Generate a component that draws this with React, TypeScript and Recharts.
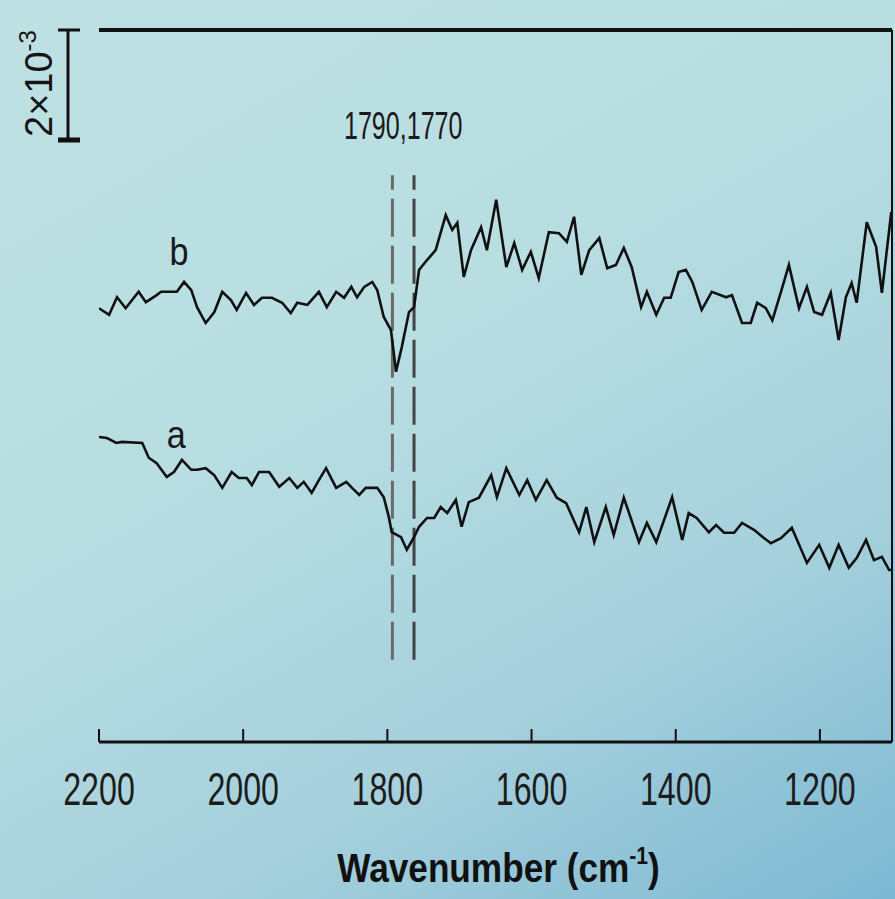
import React from "react";
import {
  LineChart,
  Line,
  XAxis,
  YAxis,
  ReferenceLine,
  ReferenceDot,
  Label,
} from "recharts";

// wavenumbers (cm-1) and absorbance (x10^-3, arbitrary offset)
const traceBWave = [
  2200, 2186, 2175, 2163, 2145, 2135, 2120, 2114, 2092, 2082, 2072, 2064, 2052, 2040, 2029, 2017,
  2009, 1996, 1985, 1974, 1960, 1946, 1934, 1925, 1911, 1895, 1884, 1871, 1860, 1850, 1842, 1832,
  1821, 1814, 1805, 1795, 1788, 1780, 1770, 1763, 1756, 1745, 1733, 1719, 1710, 1703, 1694, 1684,
  1670, 1662, 1649, 1635, 1624, 1613, 1601, 1590, 1576, 1562, 1551, 1541, 1531, 1520, 1506, 1495,
  1483, 1472, 1461, 1448, 1440, 1427, 1416, 1407, 1396, 1386, 1377, 1364, 1350, 1330, 1322, 1308,
  1296, 1287, 1275, 1266, 1254, 1243, 1229, 1218, 1208, 1197, 1185, 1174, 1164, 1156, 1149, 1135,
  1122, 1114, 1101,
];
const traceBAbs = [
  7.92, 7.8, 8.12, 7.92, 8.22, 8.03, 8.16, 8.22, 8.22, 8.4, 8.25, 7.94, 7.65, 7.85, 8.22, 8.07,
  7.89, 8.2, 7.98, 8.11, 8.11, 8.02, 7.83, 8.02, 7.98, 8.22, 7.94, 8.22, 8.11, 8.31, 8.12, 8.31,
  8.4, 8.25, 7.76, 7.52, 6.76, 7.21, 7.85, 7.94, 8.62, 8.8, 8.98, 9.62, 9.35, 9.48, 8.49, 8.98,
  9.4, 8.98, 9.9, 8.67, 9.11, 8.62, 8.95, 8.47, 9.31, 9.29, 9.13, 9.59, 8.53, 8.98, 9.2, 8.65,
  8.71, 9.02, 8.67, 7.94, 8.22, 7.8, 8.11, 8.11, 8.58, 8.62, 8.4, 7.89, 8.22, 8.12, 8.16, 7.65,
  7.65, 8.02, 7.92, 7.7, 8.22, 8.71, 7.92, 8.31, 7.85, 7.8, 8.2, 7.34, 8.12, 8.38, 8.02, 9.49,
  9.04, 8.2, 9.68,
];

const traceAWave = [
  2200, 2189, 2176, 2168, 2140, 2131, 2120, 2106, 2096, 2085, 2072, 2064, 2052, 2040, 2029, 2016,
  2006, 1995, 1988, 1978, 1964, 1950, 1936, 1925, 1916, 1905, 1895, 1885, 1871, 1857, 1849, 1839,
  1830, 1814, 1805, 1798, 1794, 1781, 1773, 1763, 1756, 1745, 1735, 1726, 1717, 1705, 1697, 1687,
  1673, 1656, 1648, 1635, 1617, 1606, 1594, 1579, 1565, 1552, 1534, 1524, 1513, 1497, 1486, 1472,
  1451, 1440, 1427, 1405, 1391, 1382, 1371, 1354, 1344, 1333, 1319, 1308, 1291, 1279, 1268, 1254,
  1239, 1218, 1201, 1187, 1174, 1160, 1149, 1136, 1125, 1114, 1104, 1100,
];
const traceAAbs = [
  5.57, 5.55, 5.46, 5.48, 5.46, 5.19, 5.09, 4.84, 4.93, 5.15, 4.97, 4.97, 5.0, 4.87, 4.64, 4.93,
  4.82, 4.82, 4.69, 4.93, 4.93, 4.66, 4.82, 4.64, 4.75, 4.55, 4.78, 5.0, 4.64, 4.75, 4.64, 4.51,
  4.64, 4.64, 4.47, 4.11, 3.83, 3.74, 3.51, 3.74, 3.93, 4.09, 4.09, 4.29, 4.18, 4.42, 3.93, 4.38,
  4.46, 4.87, 4.47, 5.0, 4.51, 4.78, 4.42, 4.78, 4.46, 4.36, 3.83, 4.29, 3.65, 4.29, 3.78, 4.46,
  3.65, 4.0, 3.65, 4.47, 3.69, 4.18, 4.09, 3.83, 3.96, 3.82, 3.82, 4.0, 3.87, 3.74, 3.63, 3.72,
  3.91, 3.27, 3.6, 3.18, 3.6, 3.18, 3.36, 3.69, 3.32, 3.38, 3.14, 3.14,
];

const xTicks = [2200, 2000, 1800, 1600, 1400, 1200];
const peakLines = [1793, 1763];

const traceA = traceAWave.map((w, i) => ({ w, v: traceAAbs[i] }));
const traceB = traceBWave.map((w, i) => ({ w, v: traceBAbs[i] }));

const FONT = "'Liberation Sans', Arial, sans-serif";

function WaveTick(props: any) {
  const { x, y, payload } = props;
  return (
    <g>
      <line x1={x} x2={x} y1={y} y2={y - 13} stroke="#111" strokeWidth={2} />
      <text
        transform={`translate(${x},${y + 63}) scale(0.7,1)`}
        textAnchor="middle"
        fontSize={46}
        fontFamily={FONT}
        fill="#1c1c1c"
      >
        {payload.value}
      </text>
    </g>
  );
}

function DotText(props: any) {
  const { viewBox, text, size, sx } = props;
  const cx = viewBox.x + (viewBox.width || 0) / 2;
  const cy = viewBox.y + (viewBox.height || 0) / 2;
  return (
    <text
      transform={`translate(${cx},${cy}) scale(${sx},1)`}
      textAnchor="middle"
      dominantBaseline="central"
      fontSize={size}
      fontFamily={FONT}
      fill="#1a1a1a"
    >
      {text}
    </text>
  );
}

export default function App() {
  return (
    <div
      style={{
        position: "absolute",
        left: 0,
        top: 0,
        width: 895,
        height: 899,
        background:
          "linear-gradient(150deg, #bee1e3 0%, #b8dee2 40%, #a5d0dc 72%, #7db8d3 100%)",
        overflow: "hidden",
      }}
    >
      <LineChart
        width={895}
        height={899}
        margin={{ top: 30, right: 3, bottom: 37, left: 99 }}
      >
        <XAxis
          dataKey="w"
          type="number"
          domain={[1100, 2200]}
          reversed
          allowDataOverflow
          ticks={xTicks}
          interval={0}
          height={120}
          tickSize={0}
          tickMargin={0}
          tickLine={false}
          tick={<WaveTick />}
          axisLine={{ stroke: "#111", strokeWidth: 3 }}
        >
          <Label
            content={(p: any) => {
              const vb = p.viewBox;
              return (
                <text
                  transform={`translate(${vb.x + vb.width / 2 + 3},${vb.y + 140}) scale(0.88,1)`}
                  textAnchor="middle"
                  fontSize={40}
                  fontWeight="bold"
                  fontFamily={FONT}
                  fill="#111"
                >
                  Wavenumber (cm
                  <tspan fontSize={24} dy={-18}>
                    -1
                  </tspan>
                  <tspan dy={18}>)</tspan>
                </text>
              );
            }}
          />
        </XAxis>
        <YAxis
          type="number"
          domain={[0, 13]}
          width={0}
          tick={false}
          tickLine={false}
          axisLine={{ stroke: "#111", strokeWidth: 3 }}
        >
          <Label
            content={(p: any) => {
              const vb = p.viewBox;
              return (
                <text
                  transform={`translate(${vb.x - 46},${vb.y + vb.height / 2}) rotate(-90)`}
                  textAnchor="middle"
                  fontSize={40}
                  fontWeight="bold"
                  fontFamily={FONT}
                  fill="#111"
                >
                  Absorbance
                </text>
              );
            }}
          />
        </YAxis>

        <ReferenceLine y={13} stroke="#111" strokeWidth={4} />
        <ReferenceLine x={1100} stroke="#111" strokeWidth={2} />

        {peakLines.map((w, i) => (
          <ReferenceLine
            key={w}
            segment={[
              { x: w, y: 1.5 },
              { x: w, y: 10.35 },
            ]}
            stroke={i === 0 ? "#6a6a6a" : "#444"}
            strokeWidth={3}
            strokeDasharray="38 9"
          />
        ))}

        <ReferenceDot
          x={1778}
          y={11.25}
          r={1}
          fill="none"
          stroke="none"
          label={<DotText text="1790,1770" size={38} sx={0.66} />}
        />
        <ReferenceDot
          x={2089}
          y={8.95}
          r={1}
          fill="none"
          stroke="none"
          label={<DotText text="b" size={38} sx={0.9} />}
        />
        <ReferenceDot
          x={2093}
          y={5.6}
          r={1}
          fill="none"
          stroke="none"
          label={<DotText text="a" size={38} sx={0.9} />}
        />

        <Line
          data={traceB}
          dataKey="v"
          type="linear"
          stroke="#111"
          strokeWidth={2.6}
          dot={false}
          isAnimationActive={false}
        />
        <Line
          data={traceA}
          dataKey="v"
          type="linear"
          stroke="#111"
          strokeWidth={2.6}
          dot={false}
          isAnimationActive={false}
        />
      </LineChart>

      {/* 2x10^-3 scale bar */}
      <svg
        width={100}
        height={160}
        style={{ position: "absolute", left: 0, top: 0 }}
      >
        <line x1={68} x2={68} y1={30} y2={140} stroke="#111" strokeWidth={3} />
        <line x1={58} x2={80} y1={30} y2={30} stroke="#111" strokeWidth={3} />
        <line x1={58} x2={80} y1={140} y2={140} stroke="#111" strokeWidth={5} />
        <text
          transform="translate(52,137) rotate(-90)"
          fontSize={38}
          fontFamily={FONT}
          fill="#151515"
        >
          2×10
          <tspan fontSize={24} dy={-16}>
            -3
          </tspan>
        </text>
      </svg>
    </div>
  );
}
